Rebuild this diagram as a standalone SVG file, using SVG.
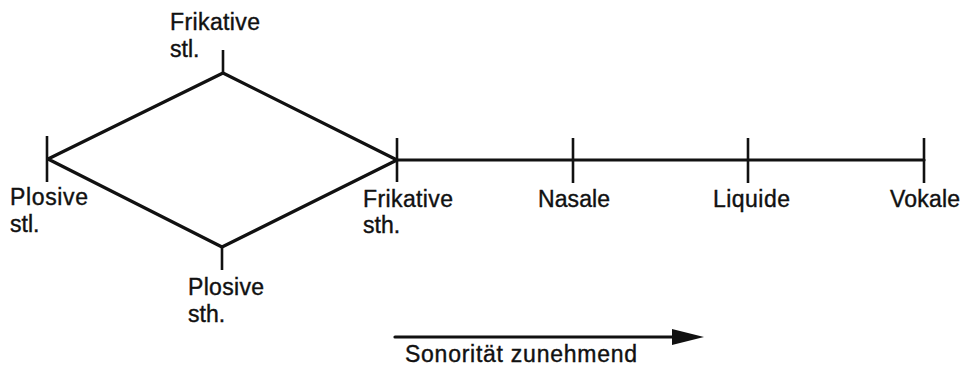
<svg xmlns="http://www.w3.org/2000/svg" width="964" height="367" viewBox="0 0 964 367">
<style>
text{font-family:"Liberation Sans",Arial,sans-serif;font-size:23px;fill:#111;stroke:#111;stroke-width:0.4}
.ln{stroke:#111;stroke-width:3.2;fill:none;stroke-linecap:round;stroke-linejoin:round}
.tk{stroke:#111;stroke-width:2.6;fill:none}
</style>
<rect width="964" height="367" fill="#fff"/>
<g id="connectors">
<path class="ln" d="M48,159 L223,73 L397,160 L222,247 Z"/>
<line class="ln" x1="397" y1="160" x2="924" y2="160"/>
<line class="ln" x1="395" y1="337" x2="674" y2="337"/>
<path d="M672,329 L704,337 L672,345 Z" fill="#111"/>
</g>
<g id="plosive-stl">
<line class="tk" x1="47" y1="136" x2="47" y2="182"/>
<text x="10" y="205" textLength="78">Plosive</text>
<text x="10" y="232">stl.</text>
</g>
<g id="frikative-stl">
<line class="tk" x1="223" y1="50" x2="223" y2="73"/>
<text x="170" y="30" textLength="90">Frikative</text>
<text x="170" y="57">stl.</text>
</g>
<g id="plosive-sth">
<line class="tk" x1="222" y1="247" x2="222" y2="270"/>
<text x="188" y="295" textLength="76">Plosive</text>
<text x="188" y="322">sth.</text>
</g>
<g id="frikative-sth">
<line class="tk" x1="397" y1="138" x2="397" y2="182"/>
<text x="363" y="207" textLength="90">Frikative</text>
<text x="363" y="233">sth.</text>
</g>
<g id="nasale">
<line class="tk" x1="573" y1="138" x2="573" y2="183"/>
<text x="538" y="207" textLength="72">Nasale</text>
</g>
<g id="liquide">
<line class="tk" x1="748" y1="138" x2="748" y2="183"/>
<text x="713" y="207" textLength="77">Liquide</text>
</g>
<g id="vokale">
<line class="tk" x1="924" y1="138" x2="924" y2="183"/>
<text x="890" y="207" textLength="70">Vokale</text>
</g>
<g id="sonoritaet">
<text x="405" y="362" textLength="232">Sonorität zunehmend</text>
</g>
</svg>
